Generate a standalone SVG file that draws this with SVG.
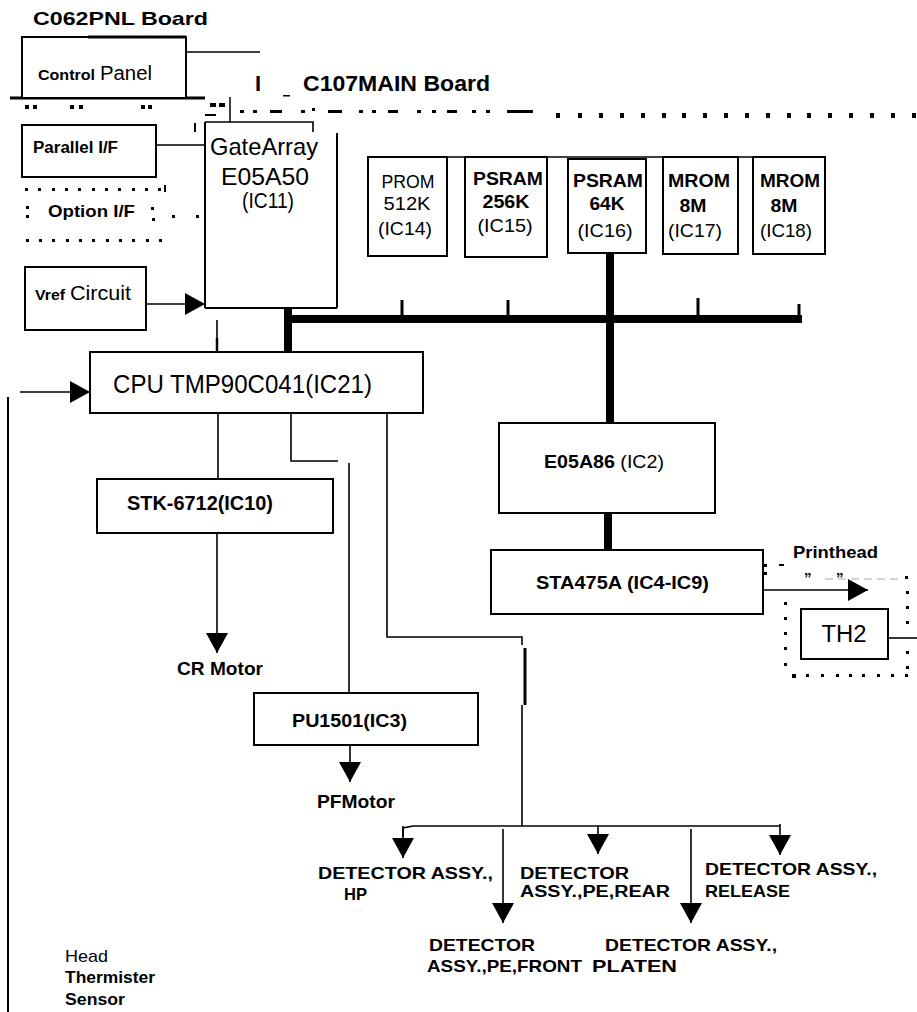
<svg xmlns="http://www.w3.org/2000/svg" width="917" height="1012" viewBox="0 0 917 1012">
<defs>
<style>
.ln{stroke:#000;stroke-width:1.6;fill:none}
.bx{stroke:#000;stroke-width:2;fill:#fff}
.bus{stroke:#000;stroke-width:8;fill:none}
.tk{stroke:#000;stroke-width:3;fill:none}
.t{font-family:"Liberation Sans",Arial,Helvetica,sans-serif;fill:#000}
.b{font-weight:bold}
.d{fill:#000}
.lt{stroke:#aaa;stroke-width:1.2;stroke-dasharray:8 5;fill:none}
</style>
<marker id="ah" viewBox="0 0 20 22" refX="20" refY="11" markerWidth="20" markerHeight="22" markerUnits="userSpaceOnUse" orient="auto"><path d="M0,0L20,11L0,22z" fill="#000"/></marker>
</defs>
<rect width="917" height="1012" fill="#fff"/>

<g id="borders">
  <line x1="10" y1="98" x2="205" y2="98" stroke="#000" stroke-width="3"/>
  <rect class="d" x="25" y="105" width="4" height="4"/><rect class="d" x="33" y="105" width="4" height="4"/>
  <rect class="d" x="70" y="105" width="4" height="4"/><rect class="d" x="79" y="105" width="4" height="4"/>
  <rect class="d" x="141" y="105" width="4" height="4"/><rect class="d" x="148" y="105" width="4" height="4"/>
  <rect class="d" x="210" y="103" width="6" height="4"/><rect class="d" x="219" y="103" width="6" height="4"/>
  <rect class="d" x="205" y="114" width="11" height="2"/>
  <line x1="230" y1="97" x2="230" y2="122" stroke="#000" stroke-width="1.5"/>
  <line x1="195" y1="123" x2="195" y2="132" stroke="#000" stroke-width="2"/>
  <g class="d">
    <rect x="240" y="110" width="4" height="3"/><rect x="253" y="110" width="4" height="3"/>
    <rect x="270" y="110" width="12" height="3"/><rect x="301" y="110" width="4" height="3"/>
    <rect x="312" y="108" width="3" height="3"/><rect x="328" y="110" width="14" height="3"/>
    <rect x="359" y="110" width="4" height="3"/><rect x="372" y="110" width="4" height="3"/>
    <rect x="388" y="110" width="10" height="3"/><rect x="417" y="110" width="4" height="3"/>
    <rect x="432" y="110" width="4" height="3"/><rect x="447" y="110" width="10" height="3"/>
    <rect x="472" y="110" width="4" height="3"/><rect x="486" y="110" width="4" height="3"/>
    <rect x="507" y="110" width="26" height="3"/>
    <rect x="283" y="95" width="7" height="1.5"/>
  </g>
  <g class="d">
    <rect x="556" y="113" width="4" height="5"/><rect x="578" y="113" width="4" height="5"/>
    <rect x="599" y="113" width="4" height="5"/><rect x="620" y="113" width="4" height="5"/>
    <rect x="641" y="113" width="4" height="5"/><rect x="662" y="113" width="4" height="5"/>
    <rect x="682" y="113" width="4" height="5"/><rect x="703" y="113" width="4" height="5"/>
    <rect x="724" y="113" width="4" height="5"/><rect x="745" y="113" width="4" height="5"/>
    <rect x="766" y="113" width="4" height="5"/><rect x="787" y="113" width="4" height="5"/>
    <rect x="807" y="113" width="4" height="5"/><rect x="828" y="113" width="4" height="5"/>
    <rect x="849" y="113" width="4" height="5"/><rect x="870" y="113" width="4" height="5"/>
    <rect x="891" y="113" width="4" height="5"/><rect x="912" y="113" width="4" height="5"/>
  </g>
  <g class="d">
    <rect x="25" y="188" width="3" height="3"/><rect x="38" y="188" width="3" height="3"/>
    <rect x="52" y="188" width="3" height="3"/><rect x="65" y="188" width="3" height="3"/>
    <rect x="78" y="188" width="3" height="3"/><rect x="92" y="188" width="3" height="3"/>
    <rect x="105" y="188" width="3" height="3"/><rect x="118" y="188" width="3" height="3"/>
    <rect x="132" y="188" width="3" height="3"/><rect x="145" y="188" width="3" height="3"/>
    <rect x="158" y="188" width="3" height="3"/><rect x="164" y="185" width="2" height="7"/>
    <rect x="26" y="206" width="3" height="3"/><rect x="26" y="215" width="3" height="3"/>
    <rect x="151" y="207" width="3" height="3"/><rect x="152" y="218" width="3" height="3"/>
    <rect x="172" y="215" width="3" height="3"/><rect x="196" y="215" width="3" height="3"/>
    <rect x="26" y="239" width="3" height="3"/><rect x="39" y="239" width="3" height="3"/>
    <rect x="52" y="239" width="3" height="3"/><rect x="66" y="239" width="3" height="3"/>
    <rect x="79" y="239" width="3" height="3"/><rect x="92" y="239" width="3" height="3"/>
    <rect x="106" y="239" width="3" height="3"/><rect x="119" y="239" width="3" height="3"/>
    <rect x="132" y="239" width="3" height="3"/><rect x="146" y="239" width="3" height="3"/>
    <rect x="159" y="239" width="3" height="3"/>
  </g>
  <line class="lt" x1="825" y1="579" x2="903" y2="579"/>
  <g class="d">
    <rect x="764" y="564" width="3" height="3"/><rect x="764" y="572" width="3" height="3"/>
    <rect x="779" y="564" width="5" height="2"/>
    <rect x="905" y="576" width="3" height="3"/><rect x="906" y="591" width="3" height="3"/>
    <rect x="906" y="606" width="3" height="3"/><rect x="906" y="621" width="3" height="3"/>
    <rect x="906" y="651" width="3" height="3"/>
    <rect x="906" y="666" width="3" height="3"/>
    <rect x="784" y="602" width="3" height="3"/><rect x="784" y="617" width="3" height="3"/>
    <rect x="784" y="632" width="3" height="3"/><rect x="784" y="647" width="3" height="3"/>
    <rect x="784" y="663" width="3" height="3"/>
    <rect x="792" y="674" width="4" height="4"/><rect x="806" y="674" width="3" height="3"/>
    <rect x="821" y="674" width="3" height="3"/><rect x="836" y="674" width="3" height="3"/>
    <rect x="849" y="674" width="3" height="3"/><rect x="862" y="674" width="3" height="3"/>
    <rect x="877" y="674" width="3" height="3"/><rect x="891" y="674" width="3" height="3"/>
    <rect x="905" y="674" width="3" height="3"/>
  </g>
  <line x1="8" y1="397" x2="8" y2="1012" stroke="#000" stroke-width="2"/>
</g>

<g id="connectors">
  <line class="ln" x1="186" y1="52" x2="260" y2="52"/>
  <line class="ln" x1="156" y1="145" x2="205" y2="145"/>
  <line class="ln" x1="146" y1="304" x2="205" y2="304" marker-end="url(#ah)"/>
  <line class="ln" x1="20" y1="392" x2="90" y2="392" marker-end="url(#ah)"/>
  <line class="bus" x1="284" y1="319" x2="802" y2="319"/>
  <line class="bus" x1="288" y1="308" x2="288" y2="352"/>
  <line class="bus" x1="610" y1="253" x2="610" y2="423"/>
  <line class="bus" x1="608" y1="513" x2="608" y2="550"/>
  <line class="tk" x1="402" y1="300" x2="402" y2="316"/>
  <line class="tk" x1="508" y1="300" x2="508" y2="316"/>
  <line class="tk" x1="698" y1="298" x2="698" y2="316"/>
  <line class="tk" x1="799" y1="304" x2="799" y2="316"/>
  <line class="ln" x1="217" y1="320" x2="217" y2="352"/>
  <line x1="217" y1="338" x2="217" y2="352" stroke="#000" stroke-width="2.5"/>
  <line class="ln" x1="218" y1="413" x2="218" y2="479"/>
  <line class="ln" x1="217" y1="533" x2="217" y2="653" marker-end="url(#ah)"/>
  <polyline class="ln" points="291,413 291,461 338,461"/>
  <line class="ln" x1="349" y1="463" x2="349" y2="693"/>
  <line class="ln" x1="350" y1="745" x2="350" y2="782" marker-end="url(#ah)"/>
  <polyline class="ln" points="387,413 387,637 522,637 522,645"/>
  <line x1="525" y1="648" x2="525" y2="705" stroke="#000" stroke-width="3"/>
  <line class="ln" x1="522" y1="705" x2="522" y2="826"/>
  <polyline class="ln" points="403,837 403,828 413,826 780,826"/>
  <line class="ln" x1="403" y1="826" x2="403" y2="858" marker-end="url(#ah)"/>
  <line class="ln" x1="503" y1="829" x2="503" y2="923" marker-end="url(#ah)"/>
  <line class="ln" x1="598" y1="826" x2="598" y2="854" marker-end="url(#ah)"/>
  <line class="ln" x1="691" y1="829" x2="691" y2="923" marker-end="url(#ah)"/>
  <line class="ln" x1="780" y1="824" x2="780" y2="855" marker-end="url(#ah)"/>
  <line class="ln" x1="763" y1="590" x2="868" y2="590" marker-end="url(#ah)"/>
  <line class="ln" x1="888" y1="638" x2="917" y2="638"/>
  <line class="ln" x1="368" y1="157" x2="825" y2="157" stroke-width="2.2"/>
</g>

<g id="c062-title"><text class="t b" x="33" y="25" font-size="19" textLength="175" lengthAdjust="spacingAndGlyphs">C062PNL Board</text></g>

<g id="control-panel">
  <rect class="bx" x="22" y="37" width="164" height="61"/>
  <line x1="88" y1="37" x2="186" y2="37" stroke="#000" stroke-width="3"/>
  <text class="t b" x="38" y="80" font-size="15" textLength="57" lengthAdjust="spacingAndGlyphs">Control</text>
  <text class="t" x="100" y="80" font-size="20" textLength="52" lengthAdjust="spacingAndGlyphs">Panel</text>
</g>

<g id="c107-title">
  <text class="t b" x="255" y="91" font-size="22">I</text>
  <text class="t b" x="303" y="91" font-size="22" textLength="187" lengthAdjust="spacingAndGlyphs">C107MAIN Board</text>
</g>

<g id="parallel-if">
  <rect class="bx" x="22" y="125" width="134" height="52"/>
  <text class="t b" x="33" y="153" font-size="16" textLength="85" lengthAdjust="spacingAndGlyphs">Parallel I/F</text>
</g>

<g id="option-if">
  <text class="t b" x="48" y="217" font-size="17" textLength="87" lengthAdjust="spacingAndGlyphs">Option I/F</text>
</g>

<g id="gate-array">
  <polyline class="ln" points="205,122 313,122 313,132" stroke-width="2"/>
  <line x1="205" y1="122" x2="205" y2="308" stroke="#000" stroke-width="2"/>
  <line x1="337" y1="133" x2="337" y2="308" stroke="#000" stroke-width="2"/>
  <line x1="205" y1="308" x2="337" y2="308" stroke="#000" stroke-width="2"/>
  <text class="t" x="264" y="155" font-size="24" text-anchor="middle" textLength="108" lengthAdjust="spacingAndGlyphs">GateArray</text>
  <text class="t" x="265" y="185" font-size="24" text-anchor="middle" textLength="88" lengthAdjust="spacingAndGlyphs">E05A50</text>
  <text class="t" x="268" y="208" font-size="22" text-anchor="middle" textLength="52" lengthAdjust="spacingAndGlyphs">(IC11)</text>
</g>

<g id="prom-ic14">
  <rect class="bx" x="368" y="157" width="79" height="99"/>
  <text class="t" x="408" y="188" font-size="19" text-anchor="middle" textLength="53" lengthAdjust="spacingAndGlyphs">PROM</text>
  <text class="t" x="407" y="210" font-size="19" text-anchor="middle" textLength="47" lengthAdjust="spacingAndGlyphs">512K</text>
  <text class="t" x="405" y="235" font-size="19" text-anchor="middle" textLength="54" lengthAdjust="spacingAndGlyphs">(IC14)</text>
</g>
<g id="psram-ic15">
  <rect class="bx" x="465" y="157" width="82" height="100"/>
  <text class="t b" x="508" y="185" font-size="18" text-anchor="middle" textLength="70" lengthAdjust="spacingAndGlyphs">PSRAM</text>
  <text class="t b" x="506" y="208" font-size="18" text-anchor="middle" textLength="47" lengthAdjust="spacingAndGlyphs">256K</text>
  <text class="t" x="505" y="232" font-size="19" text-anchor="middle" textLength="55" lengthAdjust="spacingAndGlyphs">(IC15)</text>
</g>
<g id="psram-ic16">
  <rect class="bx" x="568" y="159" width="78" height="94"/>
  <text class="t b" x="608" y="187" font-size="18" text-anchor="middle" textLength="70" lengthAdjust="spacingAndGlyphs">PSRAM</text>
  <text class="t b" x="607" y="210" font-size="18" text-anchor="middle" textLength="35" lengthAdjust="spacingAndGlyphs">64K</text>
  <text class="t" x="605" y="237" font-size="19" text-anchor="middle" textLength="55" lengthAdjust="spacingAndGlyphs">(IC16)</text>
</g>
<g id="mrom-ic17">
  <rect class="bx" x="663" y="157" width="75" height="97"/>
  <text class="t b" x="699" y="187" font-size="18" text-anchor="middle" textLength="62" lengthAdjust="spacingAndGlyphs">MROM</text>
  <text class="t b" x="693" y="212" font-size="18" text-anchor="middle" textLength="27" lengthAdjust="spacingAndGlyphs">8M</text>
  <text class="t" x="695" y="237" font-size="19" text-anchor="middle" textLength="54" lengthAdjust="spacingAndGlyphs">(IC17)</text>
</g>
<g id="mrom-ic18">
  <rect class="bx" x="753" y="157" width="72" height="97"/>
  <text class="t b" x="790" y="187" font-size="18" text-anchor="middle" textLength="60" lengthAdjust="spacingAndGlyphs">MROM</text>
  <text class="t b" x="784" y="212" font-size="18" text-anchor="middle" textLength="27" lengthAdjust="spacingAndGlyphs">8M</text>
  <text class="t" x="786" y="237" font-size="19" text-anchor="middle" textLength="52" lengthAdjust="spacingAndGlyphs">(IC18)</text>
</g>

<g id="vref-circuit">
  <rect class="bx" x="25" y="267" width="121" height="63"/>
  <text class="t b" x="35" y="300" font-size="15" textLength="30" lengthAdjust="spacingAndGlyphs">Vref</text>
  <text class="t" x="70" y="300" font-size="20" textLength="61" lengthAdjust="spacingAndGlyphs">Circuit</text>
</g>

<g id="cpu">
  <rect class="bx" x="90" y="352" width="333" height="61"/>
  <text class="t" x="113" y="393" font-size="25" textLength="259" lengthAdjust="spacingAndGlyphs">CPU TMP90C041(IC21)</text>
</g>

<g id="stk">
  <rect class="bx" x="97" y="479" width="236" height="54"/>
  <text class="t b" x="127" y="510" font-size="20" textLength="146" lengthAdjust="spacingAndGlyphs">STK-6712(IC10)</text>
</g>

<g id="e05a86">
  <rect class="bx" x="499" y="423" width="216" height="90"/>
  <text class="t" x="544" y="468" font-size="19" textLength="120" lengthAdjust="spacingAndGlyphs"><tspan class="b">E05A86</tspan> (IC2)</text>
</g>

<g id="sta475a">
  <rect class="bx" x="491" y="550" width="272" height="64"/>
  <text class="t b" x="536" y="589" font-size="19" textLength="173" lengthAdjust="spacingAndGlyphs">STA475A (IC4-IC9)</text>
</g>

<g id="printhead">
  <text class="t b" x="793" y="558" font-size="17" textLength="85" lengthAdjust="spacingAndGlyphs">Printhead</text>
  <text class="t b" x="804" y="583" font-size="15">”</text>
  <text class="t b" x="836" y="583" font-size="15">”</text>
</g>

<g id="th2">
  <rect class="bx" x="801" y="609" width="87" height="50"/>
  <text class="t" x="844" y="642" font-size="23" text-anchor="middle" textLength="45" lengthAdjust="spacingAndGlyphs">TH2</text>
</g>

<g id="cr-motor"><text class="t b" x="177" y="675" font-size="19" textLength="86" lengthAdjust="spacingAndGlyphs">CR Motor</text></g>

<g id="pu1501">
  <rect class="bx" x="254" y="693" width="224" height="52"/>
  <text class="t b" x="292" y="727" font-size="19" textLength="115" lengthAdjust="spacingAndGlyphs">PU1501(IC3)</text>
</g>

<g id="pf-motor"><text class="t b" x="317" y="808" font-size="19" textLength="78" lengthAdjust="spacingAndGlyphs">PFMotor</text></g>

<g id="det-hp">
  <text class="t b" x="318" y="879" font-size="17" textLength="175" lengthAdjust="spacingAndGlyphs">DETECTOR ASSY.,</text>
  <text class="t b" x="344" y="900" font-size="17" textLength="23" lengthAdjust="spacingAndGlyphs">HP</text>
</g>
<g id="det-pe-rear">
  <text class="t b" x="520" y="879" font-size="16" textLength="109" lengthAdjust="spacingAndGlyphs">DETECTOR</text>
  <text class="t b" x="520" y="897" font-size="16" textLength="150" lengthAdjust="spacingAndGlyphs">ASSY.,PE,REAR</text>
</g>
<g id="det-release">
  <text class="t b" x="705" y="875" font-size="17" textLength="172" lengthAdjust="spacingAndGlyphs">DETECTOR ASSY.,</text>
  <text class="t b" x="705" y="897" font-size="17" textLength="85" lengthAdjust="spacingAndGlyphs">RELEASE</text>
</g>
<g id="det-pe-front">
  <text class="t b" x="429" y="951" font-size="17" textLength="106" lengthAdjust="spacingAndGlyphs">DETECTOR</text>
  <text class="t b" x="427" y="972" font-size="17" textLength="155" lengthAdjust="spacingAndGlyphs">ASSY.,PE,FRONT</text>
</g>
<g id="det-platen">
  <text class="t b" x="605" y="951" font-size="17" textLength="172" lengthAdjust="spacingAndGlyphs">DETECTOR ASSY.,</text>
  <text class="t b" x="592" y="972" font-size="17" textLength="85" lengthAdjust="spacingAndGlyphs">PLATEN</text>
</g>

<g id="head-thermister">
  <text class="t" x="65" y="962" font-size="17" textLength="43" lengthAdjust="spacingAndGlyphs">Head</text>
  <text class="t b" x="65" y="983" font-size="16" textLength="90" lengthAdjust="spacingAndGlyphs">Thermister</text>
  <text class="t b" x="65" y="1005" font-size="16" textLength="60" lengthAdjust="spacingAndGlyphs">Sensor</text>
</g>
</svg>
